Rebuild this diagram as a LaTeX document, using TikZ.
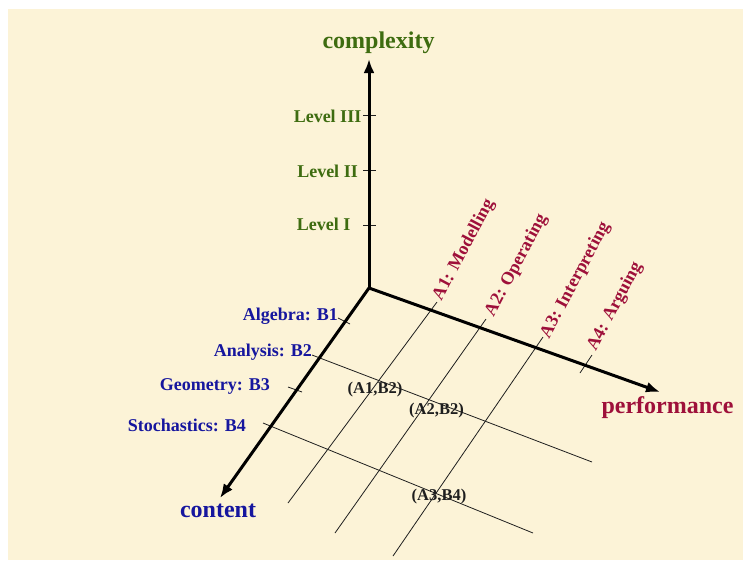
\documentclass[tikz,border=0pt]{standalone}
\usepackage{fontspec}
\setmainfont{Liberation Serif}
\usetikzlibrary{arrows.meta}
\definecolor{cream}{RGB}{252,243,215}
\definecolor{lvgreen}{RGB}{62,108,16}
\definecolor{bblue}{RGB}{22,22,158}
\definecolor{crim}{RGB}{158,16,58}
\definecolor{ink}{RGB}{30,30,30}
\tikzset{
  axis/.style={line width=3pt,-{Latex[length=14pt,width=11pt]}},
  gridln/.style={line width=0.8pt,ink},
  tickln/.style={line width=0.8pt,ink},
  axlabel/.style={font=\bfseries\fontsize{24}{28}\selectfont,inner sep=0pt},
  lvl/.style={font=\bfseries\fontsize{18}{21}\selectfont,text=lvgreen,inner sep=0pt},
  clab/.style={font=\bfseries\fontsize{18}{21}\selectfont,text=bblue,inner sep=0pt},
  plab/.style={font=\bfseries\fontsize{18}{21}\selectfont,text=crim,inner sep=0pt,rotate=62},
  cell/.style={font=\bfseries\fontsize{16.5}{19}\selectfont,text=ink,inner sep=0pt}
}
\begin{document}
\begin{tikzpicture}[x=1pt,y=-1pt]
\useasboundingbox (0,0) rectangle (743,560);
\fill[white] (0,0) rectangle (743,560);
\fill[cream] (8,9) rectangle (743,560);
% coordinates
\coordinate (O) at (369,288);
\coordinate (Ctop) at (369,59);
\coordinate (Pend) at (660,392);
\coordinate (Cend) at (220,498);
% grid lines
\coordinate (a1s) at (437,302); \coordinate (a1e) at (288,503);
\coordinate (a2s) at (486,319); \coordinate (a2e) at (335,533);
\coordinate (a3s) at (543,337); \coordinate (a3e) at (393,556);
\coordinate (a4s) at (592,355); \coordinate (a4e) at (580,373);
\coordinate (b1s) at (338,318); \coordinate (b1e) at (350,324);
\coordinate (b2s) at (312,355); \coordinate (b2e) at (592,462);
\coordinate (b3s) at (288,387); \coordinate (b3e) at (302,392);
\coordinate (b4s) at (263,423); \coordinate (b4e) at (533,533);
\coordinate (l3s) at (363,115); \coordinate (l3e) at (376,115);
\coordinate (l2s) at (363,170); \coordinate (l2e) at (376,170);
\coordinate (l1s) at (363,225); \coordinate (l1e) at (376,225);
\draw[gridln] (a1s) -- (a1e);
\draw[gridln] (a2s) -- (a2e);
\draw[gridln] (a3s) -- (a3e);
\draw[tickln] (a4s) -- (a4e);
\draw[tickln] (b1s) -- (b1e);
\draw[gridln] (b2s) -- (b2e);
\draw[tickln] (b3s) -- (b3e);
\draw[gridln] (b4s) -- (b4e);
\draw[tickln] (l3s) -- (l3e);
\draw[tickln] (l2s) -- (l2e);
\draw[tickln] (l1s) -- (l1e);
% axes
\draw[axis] (O) -- (Ctop);
\draw[axis] (O) -- (Pend);
\draw[axis] (O) -- (Cend);
% axis labels
\node[axlabel,text=lvgreen] (cx) at (378.5,43) {complexity};
\node[axlabel,text=crim] (pf) at (667.5,408) {performance};
\node[axlabel,text=bblue] (ct) at (218,511) {content};
% level labels
\node[lvl] (L3) at (327.5,116) {Level III};
\node[lvl] (L2) at (327.5,171) {Level II};
\node[lvl] (L1) at (323.5,224) {Level I};
% content labels
\node[clab,anchor=east] (B1) at (338,316) {Algebra: B1};
\node[clab,anchor=east] (B2) at (312,352) {Analysis: B2};
\node[clab,anchor=east] (B3) at (270,386) {Geometry: B3};
\node[clab,anchor=east] (B4) at (246,425) {Stochastics: B4};
% performance labels
\node[plab] (A1) at (464,250) {A1: Modelling};
\node[plab] (A2) at (516.5,265.5) {A2: Operating};
\node[plab] (A3) at (575.5,280.5) {A3: Interpreting};
\node[plab] (A4) at (615,306.5) {A4: Arguing};
% cell labels
\node[cell] (c12) at (375,390) {(A1,B2)};
\node[cell] (c22) at (436.5,411) {(A2,B2)};
\node[cell] (c34) at (439,497) {(A3,B4)};
\end{tikzpicture}
\end{document}
